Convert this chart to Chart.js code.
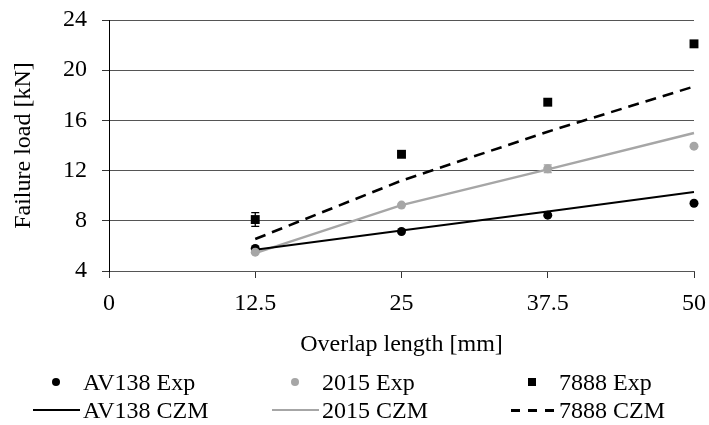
<!DOCTYPE html>
<html>
<head>
<meta charset="utf-8">
<script src="https://cdn.jsdelivr.net/npm/chart.js@4.4.0/dist/chart.umd.min.js"></script>
<style>
  html, body { margin: 0; padding: 0; background: #fff; }
  #wrap { position: relative; width: 709px; height: 425px; }
  #legend { position: absolute; left: 0; top: 0; width: 709px; height: 425px; pointer-events: none;
            font-family: 'Liberation Serif', 'Times New Roman', serif; font-size: 24px; color: #000; }
  .item { position: absolute; height: 30px; display: flex; align-items: center; white-space: nowrap; }
  .mark { width: 47px; height: 30px; position: relative; margin-right: 3px; }
  .mark div { position: absolute; }
</style>
</head>
<body>
<div id="wrap">
  <canvas id="graf" width="709" height="425"></canvas>
  <div id="legend"></div>
</div>
<script>
// data
let overlap = [12.5, 25, 37.5, 50];
let xTicks = [0, 12.5, 25, 37.5, 50];
let yTicks = [4, 8, 12, 16, 20, 24];

let av138Exp = [5.8, 7.15, 8.45, 9.4];
let av138Err = [0, 0, 0, 0];
let av138Czm = [5.7, 7.22, 8.75, 10.3];

let exp2015 = [5.5, 9.25, 12.15, 13.95];
let err2015 = [0, 0, 0.3, 0];
let czm2015 = [5.42, 9.25, 12.1, 15.0];

let exp7888 = [8.1, 13.3, 17.45, 22.1];
let err7888 = [0.55, 0, 0, 0];
let czm7888 = [6.55, 11.2, 15.1, 18.7];

let grey = "#a6a6a6";
let serif = "'Liberation Serif', 'Times New Roman', serif";

function pts(ys) {
    return overlap.map((x, i) => ({ x: x, y: ys[i] }));
}

// small error bar plugin, drawn under the markers
const errorBars = {
    id: "errorBars",
    beforeDatasetsDraw(chart) {
        const ctx = chart.ctx;
        const ys = chart.scales.y;
        chart.data.datasets.forEach((ds, i) => {
            if (!ds.errors) return;
            const meta = chart.getDatasetMeta(i);
            ctx.save();
            ctx.strokeStyle = ds.borderColor;
            ctx.lineWidth = 1.3;
            meta.data.forEach((p, j) => {
                if (!ds.errors[j]) return;
                const v = ds.data[j].y;
                const top = ys.getPixelForValue(v + ds.errors[j]);
                const bot = ys.getPixelForValue(v - ds.errors[j]);
                ctx.beginPath();
                ctx.moveTo(p.x, top); ctx.lineTo(p.x, bot);
                ctx.moveTo(p.x - 4, top); ctx.lineTo(p.x + 4, top);
                ctx.moveTo(p.x - 4, bot); ctx.lineTo(p.x + 4, bot);
                ctx.stroke();
            });
            ctx.restore();
        });
    }
};

const config = {
    type: "scatter",
    data: {
        datasets: [
            { label: "2015 Exp", data: pts(exp2015), errors: err2015, showLine: false,
              pointStyle: "circle", pointRadius: 4.5, backgroundColor: grey, borderColor: grey, borderWidth: 0 },
            { label: "AV138 Exp", data: pts(av138Exp), errors: av138Err, showLine: false,
              pointStyle: "circle", pointRadius: 4.5, backgroundColor: "#000", borderColor: "#000", borderWidth: 0 },
            { label: "7888 Exp", data: pts(exp7888), errors: err7888, showLine: false,
              pointStyle: "rect", pointRadius: 6.3, backgroundColor: "#000", borderColor: "#000", borderWidth: 0 },
            { label: "AV138 CZM", data: pts(av138Czm), showLine: true, pointRadius: 0,
              borderColor: "#000", borderWidth: 2, backgroundColor: "#000" },
            { label: "2015 CZM", data: pts(czm2015), showLine: true, pointRadius: 0,
              borderColor: grey, borderWidth: 2.5, backgroundColor: grey },
            { label: "7888 CZM", data: pts(czm7888), showLine: true, pointRadius: 0,
              borderColor: "#000", borderWidth: 2.6, borderDash: [11, 7], backgroundColor: "#000" }
        ]
    },
    options: {
        responsive: false,
        animation: false,
        clip: false,
        layout: { padding: { top: 20, right: 15, left: 0, bottom: 0 } },
        plugins: { legend: { display: false }, tooltip: { enabled: false } },
        scales: {
            x: {
                type: "linear", min: 0, max: 50,
                afterBuildTicks: (s) => { s.ticks = xTicks.map((v) => ({ value: v })); },
                afterFit: (s) => { s.height = 154; s.paddingLeft = 0; s.paddingRight = 0; },
                grid: { drawOnChartArea: false, drawTicks: true, tickLength: 7, tickColor: "#333" },
                border: { display: true, color: "#555", width: 1 },
                ticks: { color: "#000", padding: 11, maxRotation: 0, font: { family: serif, size: 24 } },
                title: { display: true, text: "Overlap length [mm]", color: "#000",
                         font: { family: serif, size: 24 }, padding: { top: 0, bottom: 66 } }
            },
            y: {
                type: "linear", min: 4, max: 24,
                afterBuildTicks: (s) => { s.ticks = yTicks.map((v) => ({ value: v })); },
                afterFit: (s) => { s.width = 109; s.paddingTop = 0; s.paddingBottom = 0; },
                grid: { color: "#555", lineWidth: 1, drawTicks: true, tickLength: 7, tickColor: "#333" },
                border: { display: true, color: "#000", width: 1 },
                ticks: { color: "#000", padding: 15, font: { family: serif, size: 24 } },
                title: { display: true, text: "Failure load [kN]", color: "#000",
                         font: { family: serif, size: 24 }, padding: { top: 9, bottom: 0 } }
            }
        }
    },
    plugins: [errorBars]
};

let graf = new Chart(document.getElementById("graf"), config);

// html legend, 3 columns x 2 rows like the original
let legendRows = [
    [["AV138 Exp", "dot", "#000"], ["2015 Exp", "dot", grey], ["7888 Exp", "square", "#000"]],
    [["AV138 CZM", "line", "#000"], ["2015 CZM", "line", grey], ["7888 CZM", "dash", "#000"]]
];
let colLeft = [33, 272, 509];
let rowMid = [382, 410];

let legendBox = document.getElementById("legend");
legendRows.forEach((row, r) => {
    row.forEach((it, c) => {
        let el = document.createElement("div");
        el.className = "item";
        el.style.left = colLeft[c] + "px";
        el.style.top = (rowMid[r] - 15) + "px";
        let mk = document.createElement("div");
        mk.className = "mark";
        let s = document.createElement("div");
        if (it[1] === "dot") {
            s.style.cssText = "left:19px;top:11px;width:8px;height:8px;border-radius:50%;background:" + it[2];
        } else if (it[1] === "square") {
            s.style.cssText = "left:19px;top:11px;width:8px;height:8px;background:" + it[2];
        } else if (it[1] === "line") {
            s.style.cssText = "left:0;top:14px;width:47px;height:2px;background:" + it[2];
        } else {
            s.style.cssText = "left:2px;top:14px;width:45px;height:2.5px;background:repeating-linear-gradient(90deg," + it[2] + " 0 9px, transparent 9px 17px)";
        }
        mk.appendChild(s);
        let t = document.createElement("span");
        t.textContent = it[0];
        el.appendChild(mk);
        el.appendChild(t);
        legendBox.appendChild(el);
    });
});
</script>
</body>
</html>
